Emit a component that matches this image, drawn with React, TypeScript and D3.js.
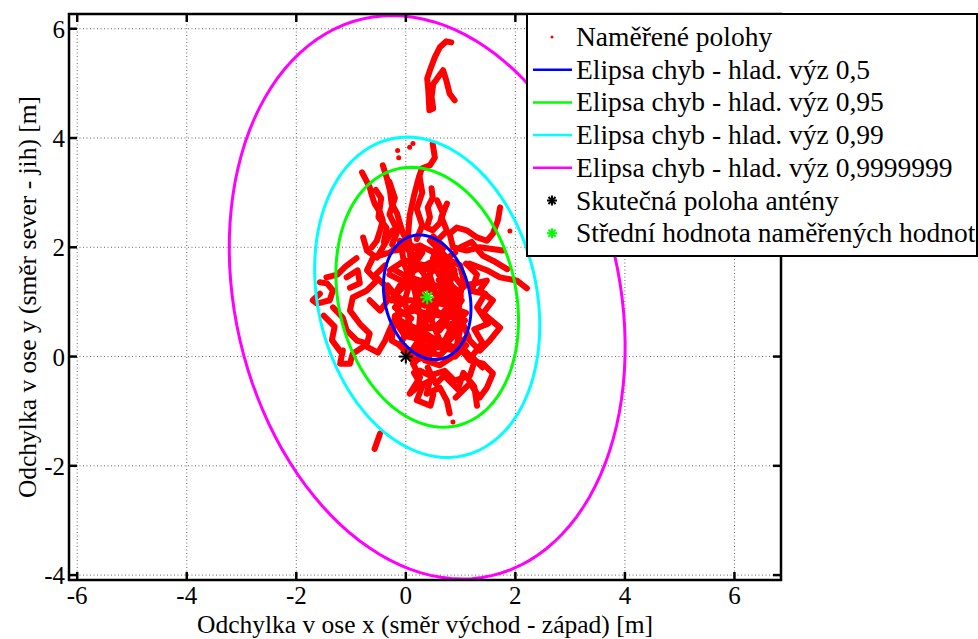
import React, { useEffect, useRef } from 'react'
import * as d3 from 'd3'

const xTicks = [-6, -4, -2, 0, 2, 4, 6]
const yTicks = [-4, -2, 0, 2, 4, 6]
const xDomain = [-6.15, 6.85]
const yDomain = [-4.09, 6.27]

const antenna = [0, 0]
const meanPos = [0.39, 1.085]

// error ellipse of the 0,5 level: semi axes [major, minor], major axis tilted from vertical (deg)
const baseAxes = [1.157, 0.776]
const tiltDeg = 13
const levelNames = ['0,5', '0,95', '0,99', '0,9999999']
const levelScales = [1, 2.085, 2.57, 4.52]
const levelColors = ['#0000ff', '#00ff00', '#00ffff', '#ff00ff']

const tracks: number[][][] = [
  [[0.83, 5.75], [0.74, 5.77], [0.62, 5.66], [0.53, 5.48], [0.44, 5.24], [0.39, 5.09], [0.41, 4.87], [0.43, 4.51], [0.5, 4.54], [0.47, 4.75], [0.5, 4.99], [0.68, 5.24], [0.74, 5.05], [0.8, 4.81], [0.89, 4.69]],
  [[0.49, 3.9], [0.53, 3.64], [0.44, 3.5], [0.29, 3.44], [0.22, 3.22], [0.15, 2.95], [0.07, 2.58], [0.04, 2.22], [0.11, 1.85]],
  [[-0.8, 3.37], [-0.66, 3.1], [-0.62, 2.95], [-0.57, 2.8], [-0.47, 2.64], [-0.42, 2.49], [-0.47, 2.31], [-0.53, 2.12], [-0.62, 2.0]],
  [[-0.42, 3.5], [-0.35, 3.28], [-0.29, 3.04], [-0.26, 2.8], [-0.16, 2.62], [-0.11, 2.44], [-0.05, 2.25], [0.02, 2.12]],
  [[0.47, 3.08], [0.49, 2.91], [0.4, 2.73], [0.44, 2.55], [0.38, 2.36], [0.49, 2.31], [0.62, 2.44], [0.68, 2.62], [0.57, 2.86]],
  [[1.72, 2.73], [1.68, 2.49], [1.59, 2.25], [1.48, 2.12], [1.3, 2.18], [1.11, 2.31], [0.93, 2.36], [0.8, 2.25], [0.86, 2.0], [1.11, 1.94], [1.35, 2.0], [1.77, 1.94]],
  [[-0.2, 1.94], [0.26, 2.03], [0.62, 1.85], [0.99, 1.67], [1.08, 1.3], [0.8, 1.03], [0.44, 1.21], [0.07, 1.39], [-0.2, 1.12], [-0.11, 0.66], [0.26, 0.48], [0.71, 0.57], [1.08, 0.66]],
  [[-0.29, 1.58], [-0.02, 1.76], [0.35, 1.67], [0.71, 1.48], [0.89, 1.03], [0.62, 0.75], [0.16, 0.84], [-0.2, 0.75], [-0.26, 0.29], [0.07, 0.11], [0.44, 0.2], [0.89, 0.11], [1.13, 0.38]],
  [[-0.11, 2.12], [-0.02, 1.67], [0.16, 1.21], [0.26, 0.75], [0.22, 0.29], [0.35, -0.07], [0.62, -0.16], [0.89, 0.02], [0.99, 0.48], [0.95, 0.93], [0.8, 1.39], [0.71, 1.85], [0.44, 2.12]],
  [[-0.33, 1.3], [-0.11, 1.03], [0.11, 1.03], [0.35, 0.93], [0.62, 1.03], [0.89, 0.84], [1.02, 1.03], [0.8, 1.21], [0.53, 1.3], [0.26, 1.39], [-0.02, 1.48], [-0.2, 1.58]],
  [[0.07, 1.94], [0.11, 1.48], [-0.02, 1.03], [0.07, 0.57], [-0.11, 0.2], [0.16, -0.07], [0.44, 0.02], [0.62, 0.29], [0.47, 0.66], [0.58, 1.03], [0.44, 1.48], [0.53, 1.94]],
  [[0.26, -0.26], [0.44, -0.35], [0.71, -0.26], [0.89, -0.44], [1.17, -0.35], [1.26, -0.07], [1.08, 0.11], [0.8, 0.2], [0.62, 0.02], [0.35, 0.11], [0.16, -0.11]],
  [[0.13, -0.13], [0.26, -0.38], [0.07, -0.68], [0.2, -0.57], [0.44, -0.44], [0.38, -0.68], [0.62, -0.57], [0.75, -0.81], [0.8, -1.04]],
  [[0.91, -0.75], [1.17, -0.49], [1.35, -0.75], [1.48, -0.57], [1.59, -0.31], [1.41, -0.13], [1.17, -0.07], [0.95, 0.2]],
  [[-0.26, 1.03], [-0.11, 1.3], [0.16, 1.58], [0.44, 1.72], [0.8, 1.58], [1.02, 1.3], [0.95, 0.75], [0.71, 0.29], [0.35, 0.29], [-0.02, 0.38], [-0.2, 0.66]],
  [[0.26, 2.03], [0.16, 1.76], [0.35, 1.48], [0.22, 1.12], [0.44, 0.93], [0.35, 0.57], [0.62, 0.48], [0.8, 0.75], [0.71, 1.12], [0.89, 1.58], [0.62, 1.94]],
  [[-0.3, 1.9], [0.0, 2.1], [0.3, 1.9], [0.1, 1.6], [0.5, 1.6], [0.3, 1.3], [0.7, 1.3], [0.5, 1.0], [0.9, 0.9], [0.6, 0.6], [1.0, 0.5], [0.7, 0.2], [0.4, 0.4], [0.2, 0.1]],
  [[-0.3, 1.2], [0.0, 1.0], [-0.2, 0.9], [0.1, 0.7], [-0.1, 0.5], [0.3, 0.4], [0.1, 0.1], [0.5, -0.1]],
  [[0.9, 1.9], [0.6, 1.7], [0.9, 1.5], [0.6, 1.4], [1.0, 1.1], [0.8, 0.9], [1.1, 0.8], [0.8, 0.5], [1.1, 0.2], [0.9, 0.0]],
  [[0.0, 2.0], [0.2, 1.8], [0.0, 1.5], [0.3, 1.1], [0.1, 0.9], [0.4, 0.7], [0.2, 0.5], [0.5, 0.3], [0.3, 0.0]],
  [[0.5, 2.2], [0.7, 2.0], [0.5, 1.8], [0.8, 1.7], [0.6, 1.5], [0.95, 1.2], [0.7, 1.1], [0.9, 0.7], [0.6, 0.8], [0.4, 1.0], [0.2, 1.3], [-0.1, 1.4], [-0.3, 1.5]],
  [[-0.3, 3.2], [-0.2, 2.9], [-0.3, 2.6], [-0.15, 2.3], [-0.25, 2.05]],
  [[0.25, 3.3], [0.3, 3.0], [0.2, 2.7], [0.3, 2.4], [0.2, 2.15]],
  [[-0.55, 3.05], [-0.45, 2.9], [-0.5, 2.55], [-0.35, 2.35], [-0.4, 2.1]],
  [[0.75, 2.8], [0.65, 2.55], [0.75, 2.3], [0.6, 2.15]],
  [[1.17, 1.7], [1.48, 1.58], [1.72, 1.45], [2.03, 1.39], [2.21, 1.25]],
  [[1.08, 1.3], [1.48, 1.39], [1.35, 1.21], [1.59, 1.03], [1.41, 0.79], [1.72, 0.53], [1.53, 0.29], [1.35, 0.11], [1.17, 0.29], [1.02, 0.66]],
  [[1.1, 1.7], [1.3, 1.5], [1.2, 1.2], [1.45, 1.15], [1.3, 0.9], [1.5, 0.6], [1.25, 0.5], [1.4, 0.25], [1.2, 0.0], [1.4, -0.2]],
  [[1.0, 2.0], [1.2, 2.1], [1.4, 1.85], [1.6, 1.75], [1.85, 1.6]],
  [[0.4, -0.2], [0.55, -0.5], [0.7, -0.35], [0.95, -0.6], [1.05, -0.3], [1.25, -0.55], [1.3, -0.9]],
  [[0.15, -0.3], [0.3, -0.55], [0.2, -0.8], [0.45, -0.9], [0.5, -0.7]],
  [[-1.57, 1.36], [-1.44, 1.34], [-1.33, 1.21], [-1.39, 1.03], [-1.62, 0.97], [-1.7, 1.03], [-1.57, 1.15]],
  [[-1.33, 0.9], [-1.15, 0.71], [-1.08, 0.48], [-0.89, 0.29], [-0.71, 0.24], [-0.66, 0.42], [-0.84, 0.6], [-1.02, 0.84], [-0.97, 1.08], [-0.71, 1.21], [-0.53, 1.39], [-0.71, 1.58], [-0.6, 1.81], [-0.35, 1.89]],
  [[-1.02, 1.26], [-0.84, 1.34], [-0.88, 1.58], [-1.08, 1.45]],
  [[-1.15, 0.11], [-1.2, -0.13], [-1.02, -0.13], [-0.97, 0.05], [-0.75, 0.2], [-0.51, 0.07], [-0.38, 0.29], [-0.26, 0.57]],
  [[-1.5, 0.75], [-1.3, 0.55], [-1.35, 0.3], [-1.2, 0.1]],
  [[-0.9, 1.8], [-1.1, 1.65], [-1.25, 1.5], [-1.45, 1.45]],
  [[-0.78, 2.18], [-0.71, 1.94], [-0.53, 1.81], [-0.35, 2.12], [-0.24, 2.31]],
  [[-0.66, 1.03], [-0.47, 0.84], [-0.33, 1.03], [-0.38, 1.3], [-0.57, 1.48], [-0.38, 1.67]],
  [[-0.47, -1.41], [-0.57, -1.69]],
]
const dots: number[][] = [[0.86, -1.2], [1.9, 2.3], [0.07, 3.83], [0.13, 3.9], [-0.15, 3.77], [-0.13, 3.64]]

const legendLabels = [
  'Naměřené polohy',
  ...levelNames.map(n => `Elipsa chyb - hlad. výz ${n}`),
  'Skutečná poloha antény',
  'Střední hodnota naměřených hodnot',
]

const font = '"Liberation Serif", "Times New Roman", serif'

const star = (g: any, cx: number, cy: number, r: number, color: string) => {
  for (let k = 0; k < 4; k++) {
    const a = (k * Math.PI) / 4
    g.append('line')
      .attr('x1', cx - r * Math.cos(a)).attr('y1', cy - r * Math.sin(a))
      .attr('x2', cx + r * Math.cos(a)).attr('y2', cy + r * Math.sin(a))
      .attr('stroke', color).attr('stroke-width', 2)
  }
}

const App = () => {
  const svgRef = useRef<SVGSVGElement>(null)

  useEffect(() => {
    const width = 978
    const height = 639
    const left = 69, right = 781, top = 14, bottom = 580

    const x = d3.scaleLinear(xDomain, [left, right])
    const y = d3.scaleLinear(yDomain, [bottom, top])

    const svg = d3.select(svgRef.current)
    svg.selectAll('*').remove()
    svg.attr('width', width).attr('height', height).attr('viewBox', [0, 0, width, height])

    svg.append('rect').attr('width', width).attr('height', height).attr('fill', '#fff')

    // grid
    const grid = svg.append('g').attr('stroke', '#666').attr('stroke-width', 1).attr('stroke-dasharray', '1,2.5')
    xTicks.forEach(t => grid.append('line').attr('x1', x(t)).attr('x2', x(t)).attr('y1', top).attr('y2', bottom))
    yTicks.forEach(t => grid.append('line').attr('y1', y(t)).attr('y2', y(t)).attr('x1', left).attr('x2', right))

    const plot = svg.append('g')
    const line = d3.line<number[]>().x(d => x(d[0])).y(d => y(d[1]))

    // measured positions
    tracks.forEach(tr => {
      plot.append('path')
        .attr('d', line(tr))
        .attr('fill', 'none')
        .attr('stroke', '#ff0000')
        .attr('stroke-width', 6)
        .attr('stroke-linejoin', 'round')
        .attr('stroke-linecap', 'round')
    })
    dots.forEach(d => plot.append('circle').attr('cx', x(d[0])).attr('cy', y(d[1])).attr('r', 2.5).attr('fill', '#ff0000'))

    // error ellipses
    const phi = ((90 + tiltDeg) * Math.PI) / 180
    const angles = d3.range(0, 361, 3).map(a => (a * Math.PI) / 180)
    levelScales.forEach((s, i) => {
      const a = baseAxes[0] * s
      const b = baseAxes[1] * s
      const pts = angles.map(t => [
        meanPos[0] + a * Math.cos(t) * Math.cos(phi) - b * Math.sin(t) * Math.sin(phi),
        meanPos[1] + a * Math.cos(t) * Math.sin(phi) + b * Math.sin(t) * Math.cos(phi),
      ])
      plot.append('path')
        .attr('d', line(pts))
        .attr('fill', 'none')
        .attr('stroke', levelColors[i])
        .attr('stroke-width', 3)
    })

    star(plot, x(antenna[0]), y(antenna[1]), 7, '#000')
    star(plot, x(meanPos[0]), y(meanPos[1]), 7, '#00ff00')

    // box and ticks
    const ax = svg.append('g').attr('stroke', '#000').attr('stroke-width', 2.5)
    ax.append('rect').attr('x', left).attr('y', top).attr('width', right - left).attr('height', bottom - top).attr('fill', 'none')
    xTicks.forEach(t => {
      ax.append('line').attr('x1', x(t)).attr('x2', x(t)).attr('y1', bottom).attr('y2', bottom - 8)
      ax.append('line').attr('x1', x(t)).attr('x2', x(t)).attr('y1', top).attr('y2', top + 8)
    })
    yTicks.forEach(t => {
      ax.append('line').attr('y1', y(t)).attr('y2', y(t)).attr('x1', left).attr('x2', left + 8)
      ax.append('line').attr('y1', y(t)).attr('y2', y(t)).attr('x1', right).attr('x2', right - 8)
    })

    const txt = svg.append('g').attr('font-family', font).attr('font-size', 25).attr('fill', '#000')
    xTicks.forEach(t => txt.append('text').attr('x', x(t)).attr('y', 604).attr('text-anchor', 'middle').text(t))
    yTicks.forEach(t => txt.append('text').attr('x', 65).attr('y', y(t) + 9).attr('text-anchor', 'end').text(t))
    txt.append('text').attr('x', (left + right) / 2).attr('y', 633).attr('text-anchor', 'middle').attr('font-size', 25.5)
      .text('Odchylka v ose x (směr východ - západ) [m]')
    txt.append('text').attr('transform', `translate(36,${(top + bottom) / 2}) rotate(-90)`).attr('text-anchor', 'middle').attr('font-size', 25.5)
      .text('Odchylka v ose y (směr sever - jih) [m]')

    // legend
    const lg = svg.append('g')
    const rowY = (i: number) => 37 + i * 32.7
    lg.append('rect').attr('x', 527).attr('y', 14).attr('width', 450).attr('height', 242)
      .attr('fill', '#fff').attr('stroke', '#000').attr('stroke-width', 2)
    lg.append('circle').attr('cx', 552).attr('cy', rowY(0)).attr('r', 1.5).attr('fill', '#ff0000')
    levelColors.forEach((c, i) => {
      lg.append('line').attr('x1', 533).attr('x2', 572).attr('y1', rowY(i + 1)).attr('y2', rowY(i + 1))
        .attr('stroke', c).attr('stroke-width', 2.5)
    })
    star(lg, 552, rowY(5), 5, '#000')
    star(lg, 552, rowY(6), 5, '#00ff00')
    legendLabels.forEach((l, i) => {
      lg.append('text').attr('x', 576).attr('y', rowY(i) + 9)
        .attr('font-family', font).attr('font-size', 27.5).text(l)
    })
  }, [])

  return (
    <svg ref={svgRef} style={{ position: 'absolute', left: 0, top: 0, display: 'block' }} />
  )
}

export default App
